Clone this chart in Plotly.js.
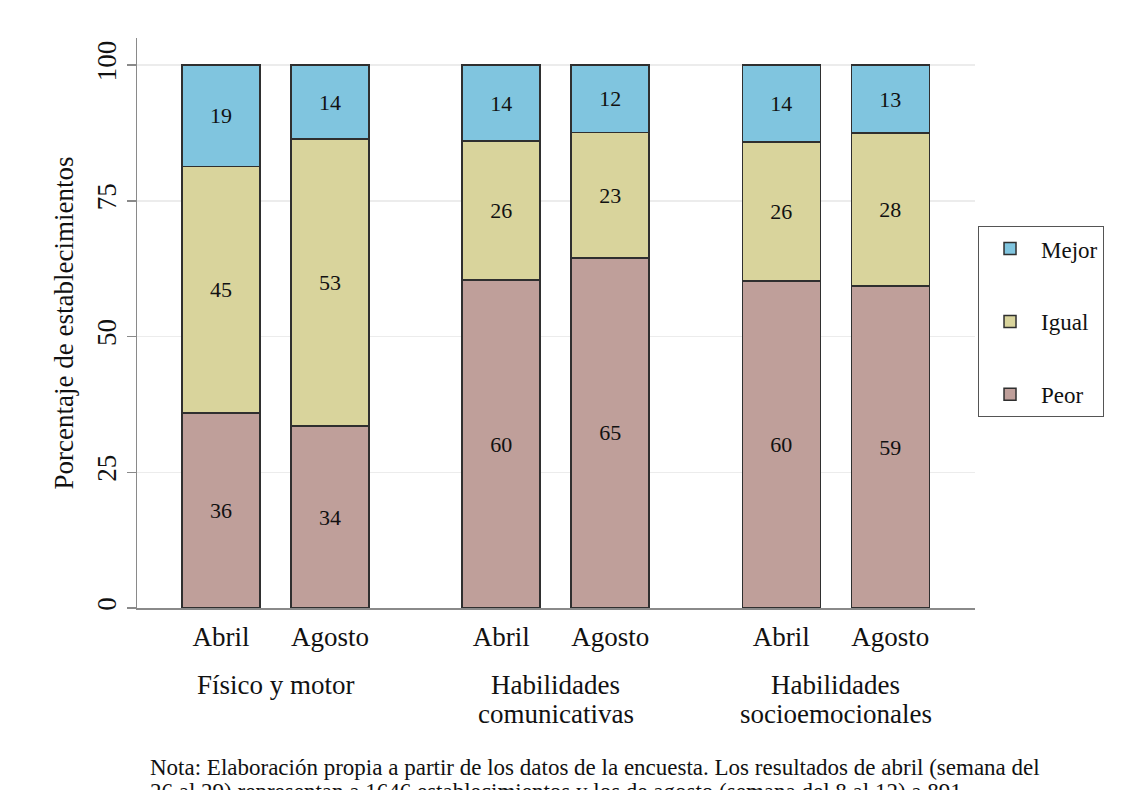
<!DOCTYPE html>
<html>
<head>
<meta charset="utf-8">
<script src="https://cdn.plot.ly/plotly-3.0.1.min.js"></script>
<style>
  html, body { margin: 0; padding: 0; background: #ffffff; }
  #chart { width: 1140px; height: 790px; }
</style>
</head>
<body>
<div id="chart"></div>
<script>
// ---- Data ----
const groupLine1 = ["Físico y motor", "Habilidades", "Habilidades"];
const groupLine2 = ["", "comunicativas", "socioemocionales"];
const periods = ["Abril", "Agosto"];
// order: [grupo0-Abril, grupo0-Agosto, grupo1-Abril, grupo1-Agosto, grupo2-Abril, grupo2-Agosto]
const peor  = [35.9, 33.5, 60.4, 64.5, 60.2, 59.3];
const igual = [45.4, 52.9, 25.6, 23.1, 25.6, 28.2];
const mejor = [18.7, 13.6, 14.0, 12.4, 14.2, 12.5];
const seriesNames = ["Peor", "Igual", "Mejor"];
const legendRanks = {Mejor: 1, Igual: 2, Peor: 3};
const yTicks = [0, 25, 50, 75, 100];
const noteLine1 = "Nota: Elaboración propia a partir de los datos de la encuesta. Los resultados de abril (semana del";
const noteLine2 = "26 al 29) representan a 1646 establecimientos y los de agosto (semana del 8 al 12) a 891";

// ---- Layout helpers ----
const GROUP_STEP = 2.57;
const xs = [], tickText = [];
groupLine1.forEach((g, gi) => {
  periods.forEach((p, pi) => {
    xs.push(gi * GROUP_STEP + pi);
    tickText.push(p);
  });
});

const FONT = "Liberation Serif, Times New Roman, serif";
const colors = {Peor: "#bf9f9a", Igual: "#d9d49c", Mejor: "#80c5df"};
const valuesBy = {Peor: peor, Igual: igual, Mejor: mejor};

const traces = seriesNames.map(name => ({
  type: "bar",
  name: name,
  legendgroup: name,
  legendrank: legendRanks[name],
  x: xs,
  y: valuesBy[name],
  width: 0.716,
  marker: {color: colors[name], line: {color: "#2f2f2f", width: 1.5}},
  texttemplate: "%{y:.0f}",
  textposition: "inside",
  insidetextanchor: "middle",
  textangle: 0,
  textfont: {family: FONT, size: 22, color: "#111"},
  hoverinfo: "name+y"
}));

const annotations = [];
groupLine1.forEach((g, gi) => {
  const cx = gi * GROUP_STEP + 0.5;
  annotations.push({xref: "x", yref: "paper", x: cx, y: -0.105, yanchor: "top", xanchor: "center",
    text: g, showarrow: false, font: {family: FONT, size: 27, color: "#111"}});
  if (groupLine2[gi]) {
    annotations.push({xref: "x", yref: "paper", x: cx, y: -0.156, yanchor: "top", xanchor: "center",
      text: groupLine2[gi], showarrow: false, font: {family: FONT, size: 27, color: "#111"}});
  }
});
annotations.push({xref: "paper", yref: "paper", x: 0.013, y: -0.255, xanchor: "left", yanchor: "top",
  text: noteLine1, showarrow: false, font: {family: FONT, size: 23, color: "#111"}});
annotations.push({xref: "paper", yref: "paper", x: 0.013, y: -0.297, xanchor: "left", yanchor: "top",
  text: noteLine2, showarrow: false, font: {family: FONT, size: 23, color: "#111"}});

const layout = {
  width: 1140, height: 790,
  margin: {l: 137, r: 165, t: 38, b: 182},
  paper_bgcolor: "#ffffff",
  plot_bgcolor: "#ffffff",
  barmode: "stack",
  font: {family: FONT, color: "#111"},
  showlegend: true,
  legend: {
    x: 1.0036, xanchor: "left", y: 0.67, yanchor: "top",
    traceorder: "grouped",
    tracegroupgap: 40,
    itemwidth: 52,
    bordercolor: "#555", borderwidth: 1, bgcolor: "#ffffff",
    font: {family: FONT, size: 23, color: "#111"}
  },
  xaxis: {
    range: [-0.771, 6.917],
    tickvals: xs, ticktext: tickText,
    ticks: "", showgrid: false, zeroline: false,
    showline: true, linecolor: "#8a8a8a", linewidth: 1.5,
    tickfont: {family: FONT, size: 27, color: "#111"},
    ticklabelstandoff: 4,
    fixedrange: true
  },
  yaxis: {
    range: [0, 105],
    tickvals: yTicks, ticktext: yTicks.map(String),
    tickangle: -90,
    ticks: "outside", ticklen: 9, tickcolor: "#8a8a8a", tickwidth: 1.5,
    showgrid: true, gridcolor: "#ececec", gridwidth: 1.5,
    zeroline: false,
    showline: true, linecolor: "#8a8a8a", linewidth: 1.5,
    tickfont: {family: FONT, size: 27, color: "#111"},
    ticklabelstandoff: 0,
    title: {text: "Porcentaje de establecimientos", font: {family: FONT, size: 27, color: "#111"}, standoff: 10},
    automargin: false,
    fixedrange: true
  },
  annotations: annotations
};

Plotly.newPlot("chart", traces, layout, {displayModeBar: false, staticPlot: true});
</script>
</body>
</html>
